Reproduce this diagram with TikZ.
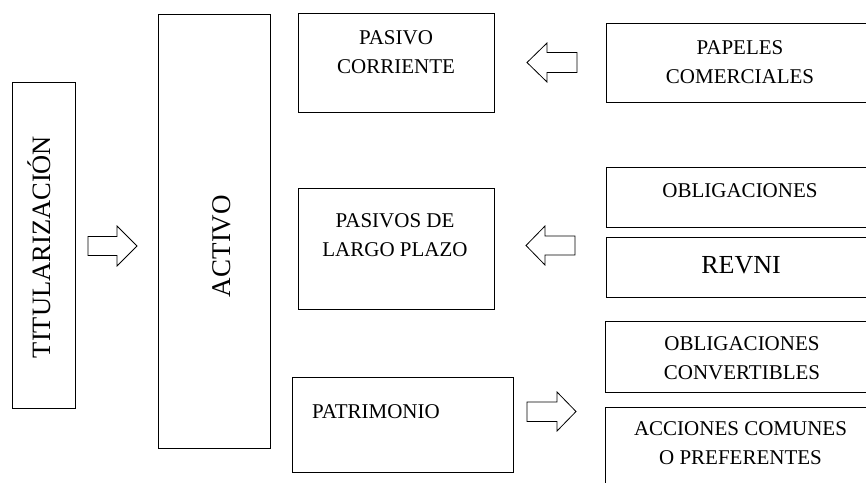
\documentclass[tikz,border=0pt]{standalone}
\usepackage{fontspec}
\setmainfont{Liberation Serif}
\begin{document}
\begin{tikzpicture}[x=1pt,y=-1pt,
  box/.style={draw=black,line width=0.9pt,rectangle,inner sep=0pt,outer sep=0pt},
  txt/.style={inner sep=0pt,align=center,font=\fontsize{21}{29}\selectfont},
  blockarrow/.style={draw=black,line width=0.8pt,fill=white,line join=miter}]
\useasboundingbox (0,0) rectangle (866,482);
\clip (0,0) rectangle (866,482);
% boxes
\node[box,minimum width=63pt,minimum height=326pt] (tit) at (43.5,245) {};
\node[box,minimum width=112pt,minimum height=434pt] (act) at (214,231) {};
\node[box,minimum width=196pt,minimum height=99pt] (pc) at (396,62.5) {};
\node[box,minimum width=196pt,minimum height=121pt] (pl) at (396,248.5) {};
\node[box,minimum width=221pt,minimum height=95pt] (pat) at (402.5,424.5) {};
\node[box,minimum width=268pt,minimum height=79pt] (pap) at (740,62.5) {};
\node[box,minimum width=268pt,minimum height=60pt] (obl) at (740,197) {};
\node[box,minimum width=268pt,minimum height=60pt] (rev) at (740,267) {};
\node[box,minimum width=269pt,minimum height=71pt] (oc) at (739.5,356.5) {};
\node[box,minimum width=269pt,minimum height=93pt] (acc) at (739.5,453.5) {};
% texts
\node[txt,anchor=base,rotate=90,font=\fontsize{26.5}{30}\selectfont] (titt) at (50,247) {TITULARIZACIÓN};
\node[txt,anchor=base,rotate=90,font=\fontsize{27}{32}\selectfont] (actt) at (230,246) {ACTIVO};
\node[txt] (pct) at (396,51.75) {PASIVO\\CORRIENTE};
\node[txt] (plt) at (395,235) {PASIVOS DE\\LARGO PLAZO};
\node[txt,anchor=west] (patt) at (312,411.3) {PATRIMONIO};
\node[txt] (papt) at (740,62.5) {PAPELES\\COMERCIALES};
\node[txt] (oblt) at (740,190.5) {OBLIGACIONES};
\node[txt,font=\fontsize{26}{30}\selectfont] (revt) at (741,265) {REVNI};
\node[txt] (oct) at (742,358.5) {OBLIGACIONES\\CONVERTIBLES};
\node[txt] (acct) at (740.5,443) {ACCIONES COMUNES\\O PREFERENTES};
% block arrows
\draw[blockarrow] (88,236.5) -- (117,236.5) -- (117,226) -- (137,246) -- (117,266) -- (117,255.5) -- (88,255.5) -- cycle;
\draw[blockarrow] (577,52.5) -- (547,52.5) -- (547,43) -- (527,62.5) -- (547,82) -- (547,72.5) -- (577,72.5) -- cycle;
\draw[blockarrow] (575,236) -- (545,236) -- (545,226) -- (526,245.5) -- (545,265) -- (545,255) -- (575,255) -- cycle;
\draw[blockarrow] (527,402) -- (557,402) -- (557,392) -- (576,411.5) -- (557,431) -- (557,421.5) -- (527,421.5) -- cycle;
\end{tikzpicture}
\end{document}
